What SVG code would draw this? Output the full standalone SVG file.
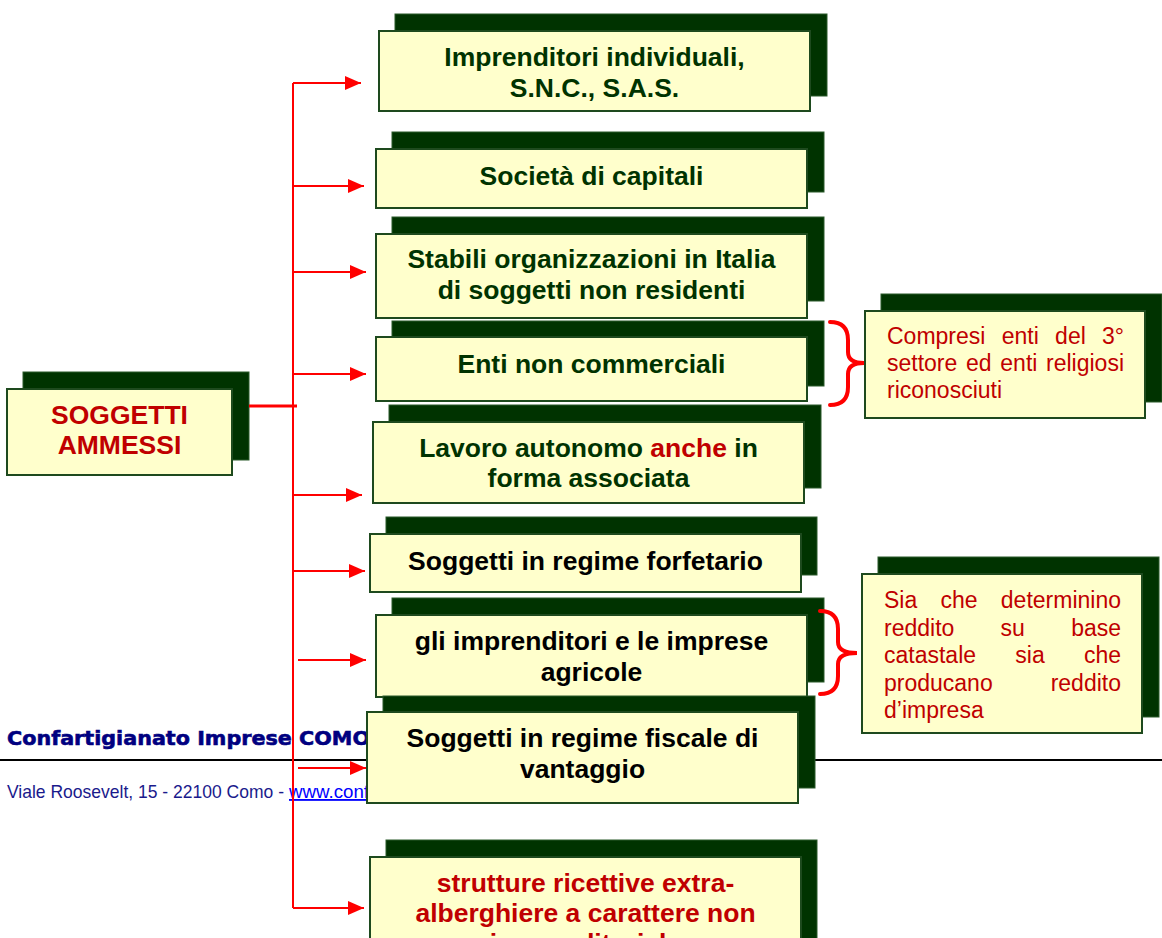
<svg xmlns="http://www.w3.org/2000/svg" width="1162" height="938" viewBox="0 0 1162 938">
<defs>
<style>
.sh{fill:#003300;stroke:#2a5a2a;stroke-width:1}
.fr{fill:#FFFFCC;stroke:#1e4a1e;stroke-width:2}
.t{font-family:"Liberation Sans",Arial,sans-serif;font-weight:bold;font-size:26.5px;text-anchor:middle}
.g{fill:#003300}
.k{fill:#000000}
.r{fill:#C00000}
.n{font-family:"Liberation Sans",Arial,sans-serif;font-size:23px;fill:#C00000}
.c{stroke:#FF0000;stroke-width:2;fill:none}
.br{stroke:#FF0000;stroke-width:4;fill:none;stroke-linecap:round}
</style>
<marker id="ah" markerWidth="16" markerHeight="14" refX="16" refY="7" orient="auto" markerUnits="userSpaceOnUse">
<path d="M0,0 L16,7 L0,14 Z" fill="#FF0000"/>
</marker>
</defs>
<rect width="1162" height="938" fill="#FFFFFF"/>

<g id="footer">
<text x="7" y="745" font-family="DejaVu Sans,Verdana,sans-serif" font-weight="bold" font-size="20" fill="#000080" stroke="#000080" stroke-width="0.6" textLength="363" lengthAdjust="spacingAndGlyphs">Confartigianato Imprese COMO</text>
<line x1="0" y1="760" x2="1162" y2="760" stroke="#000000" stroke-width="2"/>
<text x="7" y="798" font-family="Liberation Sans,Arial,sans-serif" font-size="18.5" fill="#1a1a8c" textLength="277" lengthAdjust="spacingAndGlyphs">Viale Roosevelt, 15 - 22100 Como -</text>
<text x="289" y="798" font-family="Liberation Sans,Arial,sans-serif" font-size="18.5" fill="#0000FF" text-decoration="underline" textLength="80" lengthAdjust="spacingAndGlyphs">www.conf</text>
</g>

<g id="soggetti">
<rect class="sh" x="23" y="372" width="226" height="88"/>
<rect class="fr" x="7" y="389" width="225" height="86"/>
<text class="t r" x="119.5" y="424">SOGGETTI</text>
<text class="t r" x="119.5" y="454">AMMESSI</text>
</g>

<g id="box1">
<rect class="sh" x="395" y="14" width="432" height="82"/>
<rect class="fr" x="379" y="31" width="431" height="80"/>
<text class="t g" x="594.5" y="66">Imprenditori individuali,</text>
<text class="t g" x="594.5" y="97">S.N.C., S.A.S.</text>
</g>

<g id="box2">
<rect class="sh" x="392" y="132" width="432" height="60"/>
<rect class="fr" x="376" y="149" width="431" height="59"/>
<text class="t g" x="591.5" y="185">Società di capitali</text>
</g>

<g id="box3">
<rect class="sh" x="392" y="217" width="432" height="84"/>
<rect class="fr" x="376" y="234" width="431" height="84"/>
<text class="t g" x="591.5" y="268">Stabili organizzazioni in Italia</text>
<text class="t g" x="591.5" y="299">di soggetti non residenti</text>
</g>

<g id="box4">
<rect class="sh" x="392" y="321" width="432" height="65"/>
<rect class="fr" x="376" y="337" width="431" height="64"/>
<text class="t g" x="591.5" y="373">Enti non commerciali</text>
</g>

<g id="box5">
<rect class="sh" x="389" y="405" width="432" height="83"/>
<rect class="fr" x="373" y="422" width="431" height="81"/>
<text class="t g" x="588.5" y="457">Lavoro autonomo <tspan class="r">anche</tspan> in</text>
<text class="t g" x="588.5" y="487">forma associata</text>
</g>

<g id="box6">
<rect class="sh" x="386" y="517" width="431" height="58"/>
<rect class="fr" x="370" y="534" width="431" height="58"/>
<text class="t k" x="585.5" y="570">Soggetti in regime forfetario</text>
</g>

<g id="box7">
<rect class="sh" x="392" y="598" width="432" height="84"/>
<rect class="fr" x="376" y="615" width="431" height="82"/>
<text class="t k" x="591.5" y="650">gli imprenditori e le imprese</text>
<text class="t k" x="591.5" y="681">agricole</text>
</g>

<g id="box8">
<rect class="sh" x="383" y="696" width="432" height="92"/>
<rect class="fr" x="367" y="712" width="431" height="91"/>
<text class="t k" x="582.5" y="747">Soggetti in regime fiscale di</text>
<text class="t k" x="582.5" y="778">vantaggio</text>
</g>

<g id="box9">
<rect class="sh" x="386" y="840" width="431" height="120"/>
<rect class="fr" x="370" y="857" width="431" height="110"/>
<text class="t r" x="585.5" y="892">strutture ricettive extra-</text>
<text class="t r" x="585.5" y="922">alberghiere a carattere non</text>
<text class="t r" x="585.5" y="952">imprenditoriale</text>
</g>

<g id="note1">
<rect class="sh" x="881" y="294" width="281" height="108"/>
<rect class="fr" x="865" y="311" width="280" height="107"/>
<text class="n" y="344"><tspan x="887">Compresi</tspan><tspan x="1001.7">enti</tspan><tspan x="1055.1">del</tspan><tspan x="1124" text-anchor="end">3°</tspan></text>
<text class="n" y="371"><tspan x="887">settore</tspan><tspan x="966">ed</tspan><tspan x="1000.3">enti</tspan><tspan x="1124" text-anchor="end">religiosi</tspan></text>
<text class="n" x="887" y="398">riconosciuti</text>
</g>

<g id="note2">
<rect class="sh" x="878" y="557" width="281" height="160"/>
<rect class="fr" x="862" y="574" width="280" height="159"/>
<text class="n" y="608"><tspan x="884">Sia</tspan><tspan x="940.5">che</tspan><tspan x="1121" text-anchor="end">determinino</tspan></text>
<text class="n" y="635.5"><tspan x="884">reddito</tspan><tspan x="1000.5">su</tspan><tspan x="1121" text-anchor="end">base</tspan></text>
<text class="n" y="663"><tspan x="884">catastale</tspan><tspan x="1015.3">sia</tspan><tspan x="1121" text-anchor="end">che</tspan></text>
<text class="n" y="690.5"><tspan x="884">producano</tspan><tspan x="1121" text-anchor="end">reddito</tspan></text>
<text class="n" x="884" y="718">d’impresa</text>
</g>

<g id="connectors">
<line x1="249" y1="406" x2="297" y2="406" stroke="#FF0000" stroke-width="3"/>
<line class="c" x1="293" y1="83" x2="293" y2="908"/>
<line class="c" x1="293" y1="83" x2="361" y2="83" marker-end="url(#ah)"/>
<line class="c" x1="293" y1="186" x2="364" y2="186" marker-end="url(#ah)"/>
<line class="c" x1="293" y1="272" x2="366" y2="272" marker-end="url(#ah)"/>
<line class="c" x1="293" y1="374" x2="366" y2="374" marker-end="url(#ah)"/>
<line class="c" x1="293" y1="495" x2="362" y2="495" marker-end="url(#ah)"/>
<line class="c" x1="293" y1="571" x2="365" y2="571" marker-end="url(#ah)"/>
<line class="c" x1="298" y1="660" x2="366" y2="660" marker-end="url(#ah)"/>
<line class="c" x1="298" y1="768" x2="366" y2="768" marker-end="url(#ah)"/>
<line class="c" x1="293" y1="908" x2="364" y2="908" marker-end="url(#ah)"/>
<path class="br" d="M830,322 Q848,322 848,340 L848,352 Q848,363 864,363 Q848,363 848,374 L848,387 Q848,405 830,405"/>
<path class="br" d="M820,611 Q838,611 838,629 L838,642 Q838,653 857,653 Q838,653 838,664 L838,676 Q838,694 820,694"/>
</g>
</svg>
